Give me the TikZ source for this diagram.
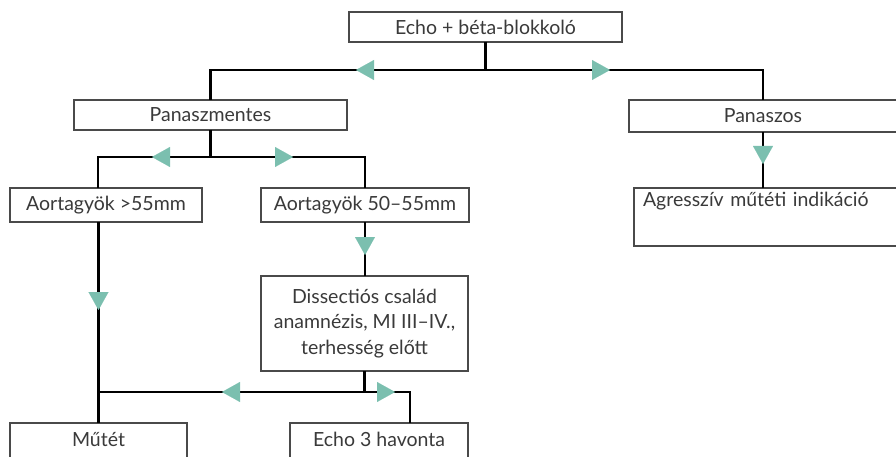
\documentclass[tikz,border=0pt]{standalone}
\usepackage{fontspec}
\setmainfont{Lato}
\usepackage{tikz}
\usetikzlibrary{arrows.meta, positioning, decorations.markings}
\definecolor{ink}{HTML}{3A3A3A}
\definecolor{frame}{HTML}{4A4A4A}
\definecolor{mint}{HTML}{7BBFAF}

\begin{document}
\begin{tikzpicture}[
  x=1pt, y=1pt,
  box/.style={draw=frame, line width=1.3pt, fill=white, inner sep=0pt, outer sep=0pt,
              font=\fontsize{19.5}{25.5}\selectfont, text=ink, align=center},
  link/.style={line width=2.6pt, color=black},
  tip/.style={postaction={decorate, decoration={markings,
              mark=at position #1 with {\arrow{Triangle[length=18pt, width=20pt, color=mint, line width=0.1pt]}}}}}
]
  \useasboundingbox (0,0) rectangle (896,-457);

  % Top
  \node[box, minimum width=273pt, minimum height=30pt] (echo) at (485.5,-27) {Echo + béta-blokkoló};

  % Second row
  \node[box, minimum width=273pt, minimum height=30pt, below=58pt of echo.south west,
        anchor=north west, xshift=-275pt] (calm) {Panaszmentes};
  \node[box, minimum width=268pt, minimum height=32pt, below=58pt of echo.south east,
        anchor=north west, xshift=7pt] (sympt) {Panaszos};

  % Third row
  \node[box, minimum width=192pt, minimum height=34pt, below=58pt of calm.south west,
        anchor=north west, xshift=-64pt] (big) {Aortagyök >55mm};
  \node[box, minimum width=208pt, minimum height=34pt, right=59pt of big] (mid) {Aortagyök 50--55mm};
  \node[box, minimum width=270pt, minimum height=58pt, below=56pt of sympt.south west,
        anchor=north west, xshift=5pt, align=left, text depth=36pt, text width=252pt]
    (aggr) {Agresszív műtéti indikáció};

  % Risk box
  \node[box, minimum width=207pt, minimum height=95pt, below=54pt of mid.south west,
        anchor=north west] (risk) {Dissectiós család\\anamnézis, MI III--IV.,\\terhesség előtt};

  % Bottom
  \node[box, minimum width=177pt, minimum height=36pt, below=201pt of big.south west,
        anchor=north west, text depth=4pt] (surg) {Műtét};
  \node[box, minimum width=178pt, minimum height=36pt, below=52pt of risk.south west,
        anchor=north west, xshift=29pt, text depth=4pt] (follow) {Echo 3 havonta};

  % Junctions
  \coordinate[below=28pt of echo.south] (j1);
  \coordinate[below=27pt of calm.south] (j2);
  \coordinate[below=21pt of risk.south] (j3);

  % Echo split
  \draw[link] (echo.south) -- (j1);
  \draw[link, tip=129.5pt] (j1) -| (calm.north);
  \draw[link, tip=124.5pt] (j1) -| (sympt.north);

  % Panaszmentes split
  \draw[link] (calm.south) -- (j2);
  \draw[link, tip=58.5pt] (j2) -| ([xshift=-8pt]big.north);
  \draw[link, tip=82.5pt] (j2) -| (mid.north);

  % Straight drops
  \draw[link, tip=32pt] (sympt.south) -- (sympt.south |- aggr.north);
  \draw[link, tip=88pt] (surg.north |- big.south) -- (surg.north);
  \draw[link, tip=33pt] (mid.south) -- (mid.south |- risk.north);

  % Risk split
  \draw[link] (risk.south) -- (j3);
  \draw[link, tip=142.5pt] (j3) -- (j3 -| surg.north);
  \draw[link, tip=30.5pt] (j3) -| ([xshift=31pt]follow.north);
\end{tikzpicture}
\end{document}
